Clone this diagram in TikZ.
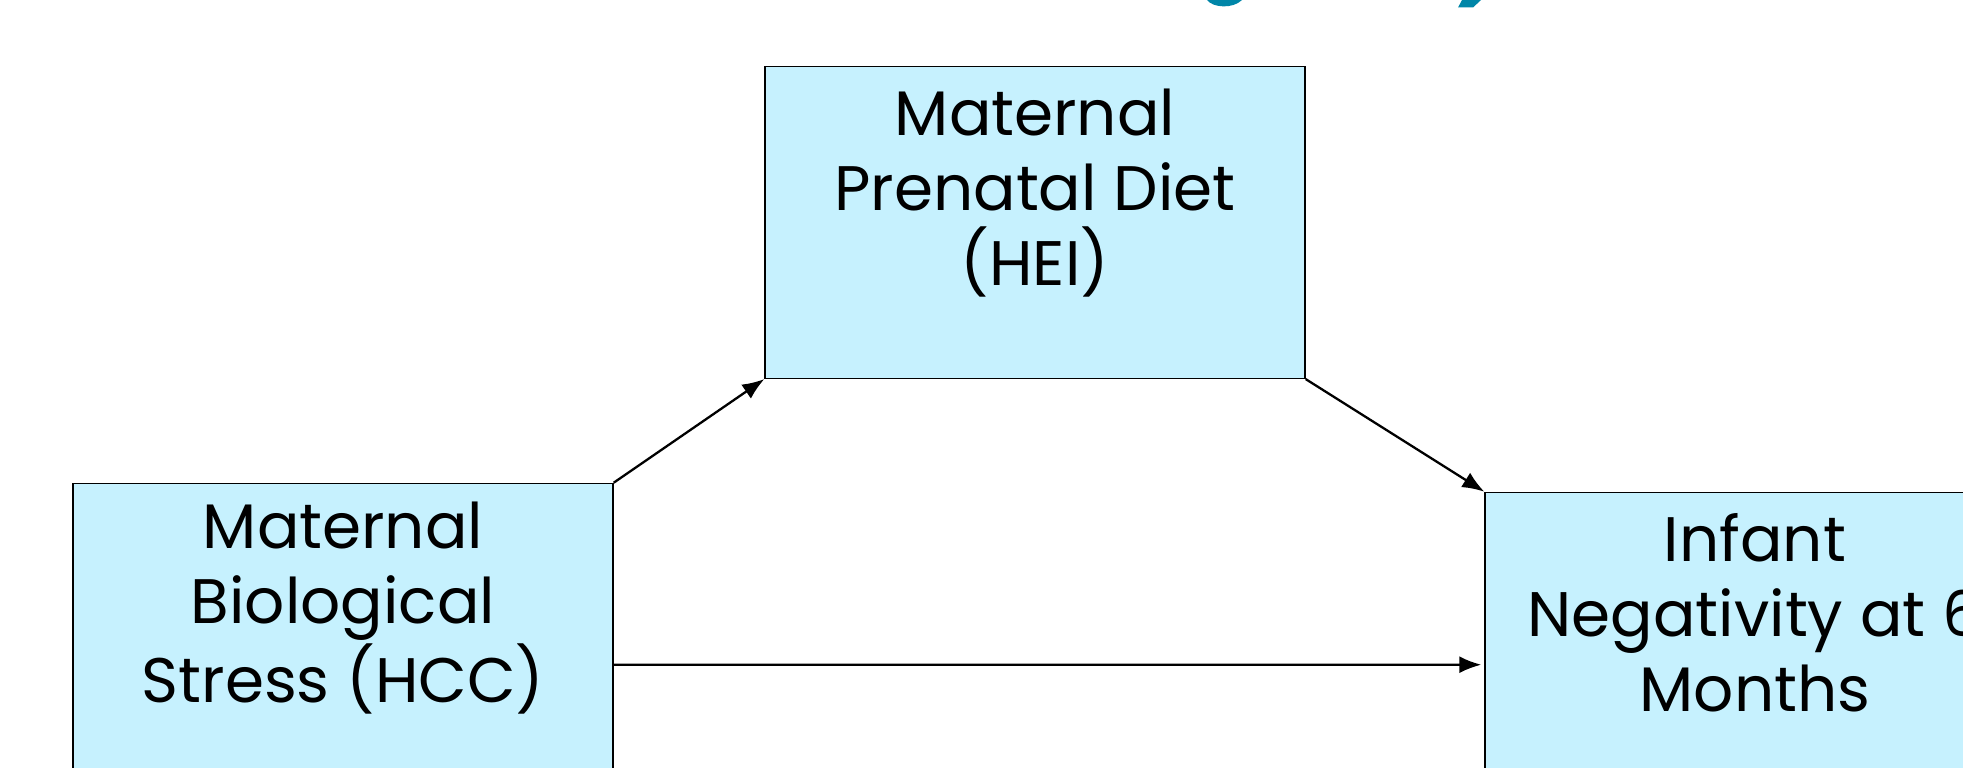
\documentclass[tikz,border=0pt]{standalone}
\usepackage{fontspec}
\setmainfont{Poppins}
\usepackage{tikz}
\usetikzlibrary{arrows.meta}
\definecolor{paleblue}{RGB}{198,241,254}
\definecolor{titleteal}{RGB}{0,134,168}

\begin{document}
\begin{tikzpicture}[
    box/.style={draw, line width=0.4pt, fill=paleblue, minimum width=5.4cm, anchor=north west, inner sep=0pt},
    boxtext/.style={align=center, anchor=base, inner sep=0pt, font=\fontsize{17.9}{21.4}\selectfont},
    arr/.style={-{Latex[length=0.22cm,width=0.17cm]}, line width=0.65pt}
]

\clip (0,0) rectangle (19.63,-7.68);

% Title (cut off at the top)
\fill[titleteal] (12.07,0) .. controls (12.13,-0.08) and (12.33,-0.09) .. (12.42,0) -- cycle;
\fill[titleteal] (14.62,0) -- (14.81,0) -- (14.73,-0.075) -- (14.58,-0.075) -- cycle;

% Boxes
\node[box, minimum height=3.12cm] (hei) at (7.643,-0.657) {};
\node[box, minimum height=3.626cm] (hcc) at (0.723,-4.827) {};
\node[box, minimum height=3.446cm] (neg) at (14.843,-4.917) {};

% Labels (base = last line)
\node[boxtext] (heitext) at ([yshift=-2.2cm]hei.north) {Maternal\\Prenatal Diet\\(HEI)};
\node[boxtext] (hcctext) at ([yshift=-2.2cm]hcc.north) {Maternal\\Biological\\Stress (HCC)};
\node[boxtext] (negtext) at ([yshift=-2.2cm]neg.north) {Infant\\Negativity at 6\\Months};

% Arrows
\draw[arr] (hcc.north east) -- (hei.south west);
\draw[arr] (hei.south east) -- (neg.north west);
\draw[arr, shorten >=0.03cm] (hcc.east) -- (neg.west);

\end{tikzpicture}
\end{document}
